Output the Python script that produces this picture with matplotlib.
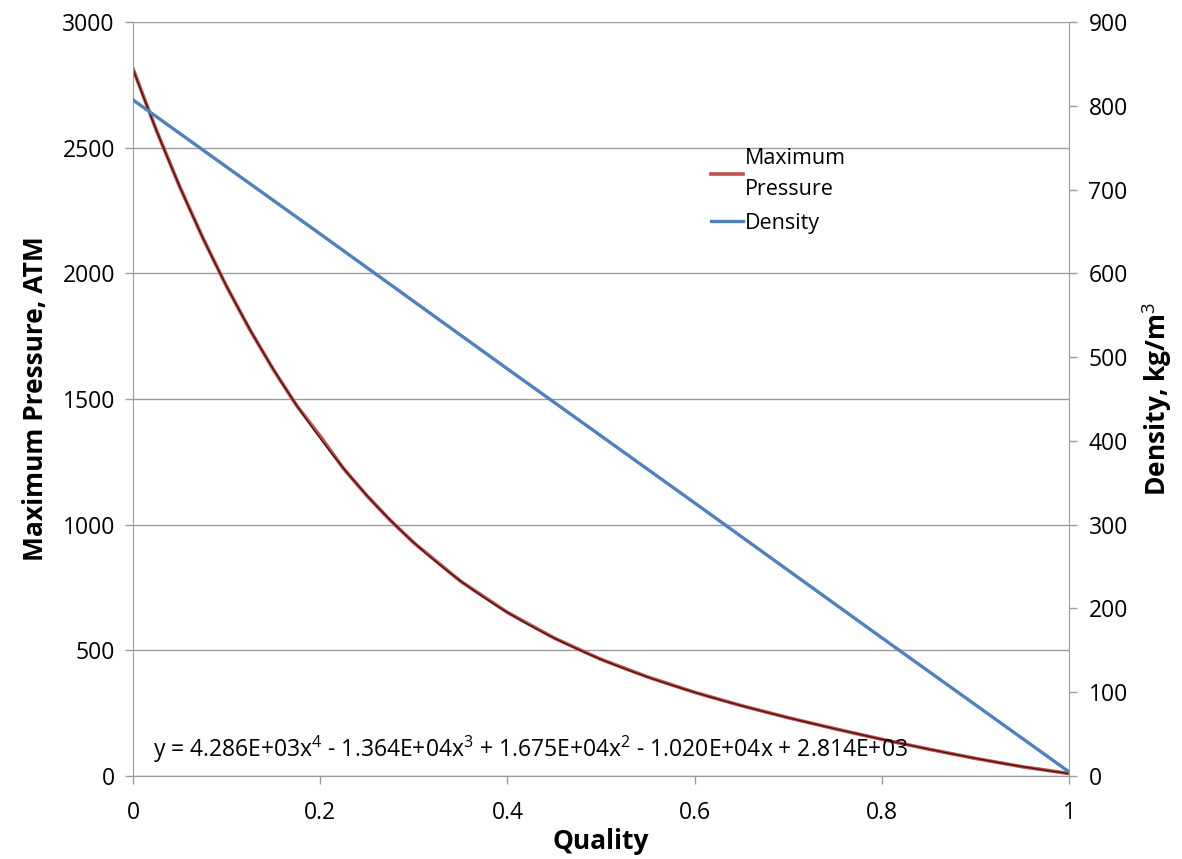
import numpy as np
import matplotlib.pyplot as plt

plt.rcParams['font.family'] = ['Open Sans', 'DejaVu Sans']
plt.rcParams['mathtext.fontset'] = 'custom'
plt.rcParams['mathtext.rm'] = 'Open Sans'
plt.rcParams['mathtext.it'] = 'Open Sans'

# values
quality = [0.0, 0.025, 0.05, 0.075, 0.1, 0.125, 0.15, 0.175, 0.2, 0.225, 0.25,
           0.275, 0.3, 0.35, 0.4, 0.45, 0.5, 0.55, 0.6, 0.65, 0.7, 0.75, 0.8,
           0.85, 0.9, 0.95, 1.0]
max_pressure = [2814, 2569, 2344, 2138, 1948, 1775, 1617, 1473, 1352, 1223, 1115,
                1017, 928, 775, 651, 549, 464, 394, 333, 280, 232, 188, 146,
                107, 70, 37, 10]
density_q = [0.0, 0.2, 0.4, 0.6, 0.8, 1.0]
density = [807, 647, 486, 326, 165, 5]

equation = ('y = 4.286E+03x$^4$ - 1.364E+04x$^3$ + 1.675E+04x$^2$'
            ' - 1.020E+04x + 2.814E+03')

red = '#C0504D'
blue = '#4F81BD'
grey = '#9C9C9C'

fig = plt.figure(figsize=(11.82, 8.59), dpi=100)
ax = fig.add_axes([0.1125, 0.0966, 0.7919, 0.8778])
ax2 = ax.twinx()

l1, = ax.plot(quality, max_pressure, color=red, lw=2.6, label='Maximum\nPressure')
# 4th order trendline drawn over the data
coef = np.polyfit(quality, max_pressure, 4)
xs = np.linspace(0, 1, 200)
ax.plot(xs, np.polyval(coef, xs), color='#4a1414', lw=1.0)
l2, = ax2.plot(density_q, density, color=blue, lw=2.4, label='Density')

ax.set_xlim(0, 1)
ax.set_ylim(0, 3000)
ax2.set_ylim(0, 900)
ax.set_xticks(np.arange(0, 1.01, 0.2))
ax.set_xticklabels(['0', '0.2', '0.4', '0.6', '0.8', '1'])
ax.set_yticks(range(0, 3001, 500))
ax2.set_yticks(range(0, 901, 100))

ax.grid(axis='y', color=grey, lw=1)
ax.set_axisbelow(True)
for a in (ax, ax2):
    a.spines['top'].set_visible(False)
    for s in ('left', 'right', 'bottom'):
        a.spines[s].set_color(grey)
    a.tick_params(colors=grey, labelcolor='black', labelsize=16.5, length=6, width=1)
ax.tick_params(axis='x', pad=12)
ax.tick_params(axis='y', pad=7)
ax2.tick_params(pad=8)
ax2.spines['left'].set_visible(False)
ax.spines['right'].set_visible(False)

ax.set_xlabel('Quality', fontsize=19, fontweight='bold', labelpad=2)
ax.set_ylabel('Maximum Pressure, ATM', fontsize=19, fontweight='bold', labelpad=10)
ax2.set_ylabel('Density, kg/m$^3$', fontsize=19, fontweight='bold', labelpad=10)

ax.text(0.021, 0.026, equation, transform=ax.transAxes, fontsize=16.5)

leg = fig.legend(handles=[l1, l2], loc='upper left', bbox_to_anchor=(0.585, 0.85),
                 frameon=False, fontsize=15.5, handlelength=1.5, handletextpad=0.1,
                 labelspacing=0.6)
for t in leg.get_texts():
    t.set_linespacing(1.6)

fig.savefig('out.png', dpi=100)
